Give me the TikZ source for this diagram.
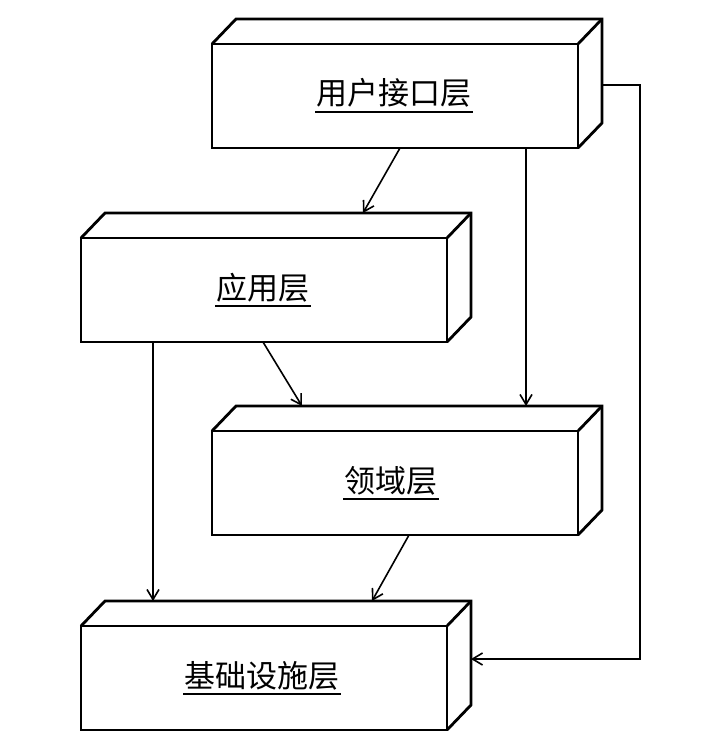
\documentclass[tikz,border=0pt]{standalone}
\usepackage{fontspec}
\newfontfamily\cjk{Noto Sans CJK SC}
\usetikzlibrary{arrows.meta}
\begin{document}
\begin{tikzpicture}[x=1pt,y=-1pt,
  front/.style={draw, line width=2.8pt, minimum width=366pt, minimum height=104pt, inner sep=0pt, outer sep=0pt, line join=miter},
  edge/.style={line width=2.8pt, line join=miter},
  ltext/.style={font=\cjk\fontsize{31}{31}\selectfont, inner xsep=1pt, inner ysep=0pt, anchor=base},
  uline/.style={line width=1.5pt},
  conn/.style={line width=1.6pt, -{Straight Barb[length=10pt,width=12pt]}}
]
\useasboundingbox (0,0) rectangle (722,746);
% box 1
\node[front] (b1) at (395,96) {};
\draw[edge] (b1.north west) -- ++(24,-25) -- ([shift={(24,-25)}]b1.north east) -- ([shift={(24,-25)}]b1.south east) -- (b1.south east);
\draw[edge] (b1.north east) -- ++(24,-25);
\node[ltext] (t1) at (394,105) {用户接口层};
\draw[uline] ([yshift=-7pt]t1.base west) -- ([yshift=-7pt]t1.base east);
% box 2
\node[front] (b2) at (264,290) {};
\draw[edge] (b2.north west) -- ++(24,-25) -- ([shift={(24,-25)}]b2.north east) -- ([shift={(24,-25)}]b2.south east) -- (b2.south east);
\draw[edge] (b2.north east) -- ++(24,-25);
\node[ltext] (t2) at (263,299) {应用层};
\draw[uline] ([yshift=-7pt]t2.base west) -- ([yshift=-7pt]t2.base east);
% box 3
\node[front] (b3) at (395,483) {};
\draw[edge] (b3.north west) -- ++(24,-25) -- ([shift={(24,-25)}]b3.north east) -- ([shift={(24,-25)}]b3.south east) -- (b3.south east);
\draw[edge] (b3.north east) -- ++(24,-25);
\node[ltext] (t3) at (391,492) {领域层};
\draw[uline] ([yshift=-7pt]t3.base west) -- ([yshift=-7pt]t3.base east);
% box 4
\node[front] (b4) at (264,678) {};
\draw[edge] (b4.north west) -- ++(24,-25) -- ([shift={(24,-25)}]b4.north east) -- ([shift={(24,-25)}]b4.south east) -- (b4.south east);
\draw[edge] (b4.north east) -- ++(24,-25);
\node[ltext] (t4) at (262,687) {基础设施层};
\draw[uline] ([yshift=-7pt]t4.base west) -- ([yshift=-7pt]t4.base east);
% connectors
\draw[conn] ([xshift=5pt]b1.south) -- ([shift={(99,-25)}]b2.north);
\draw[conn] ([xshift=131pt]b1.south) -- ([shift={(131,-25)}]b3.north);
\draw[conn] ([xshift=-111pt]b2.south) -- ([shift={(-111,-25)}]b4.north);
\draw[conn] ([xshift=-1pt]b2.south) -- ([shift={(-93,-25)}]b3.north);
\draw[conn] ([xshift=14pt]b3.south) -- ([shift={(108,-25)}]b4.north);
\coordinate (c1) at ([shift={(24,-11)}]b1.east);
\coordinate (c2) at ([shift={(24,-19)}]b4.east);
\draw[conn] (c1) -- (640,85) |- (c2);
\end{tikzpicture}
\end{document}
